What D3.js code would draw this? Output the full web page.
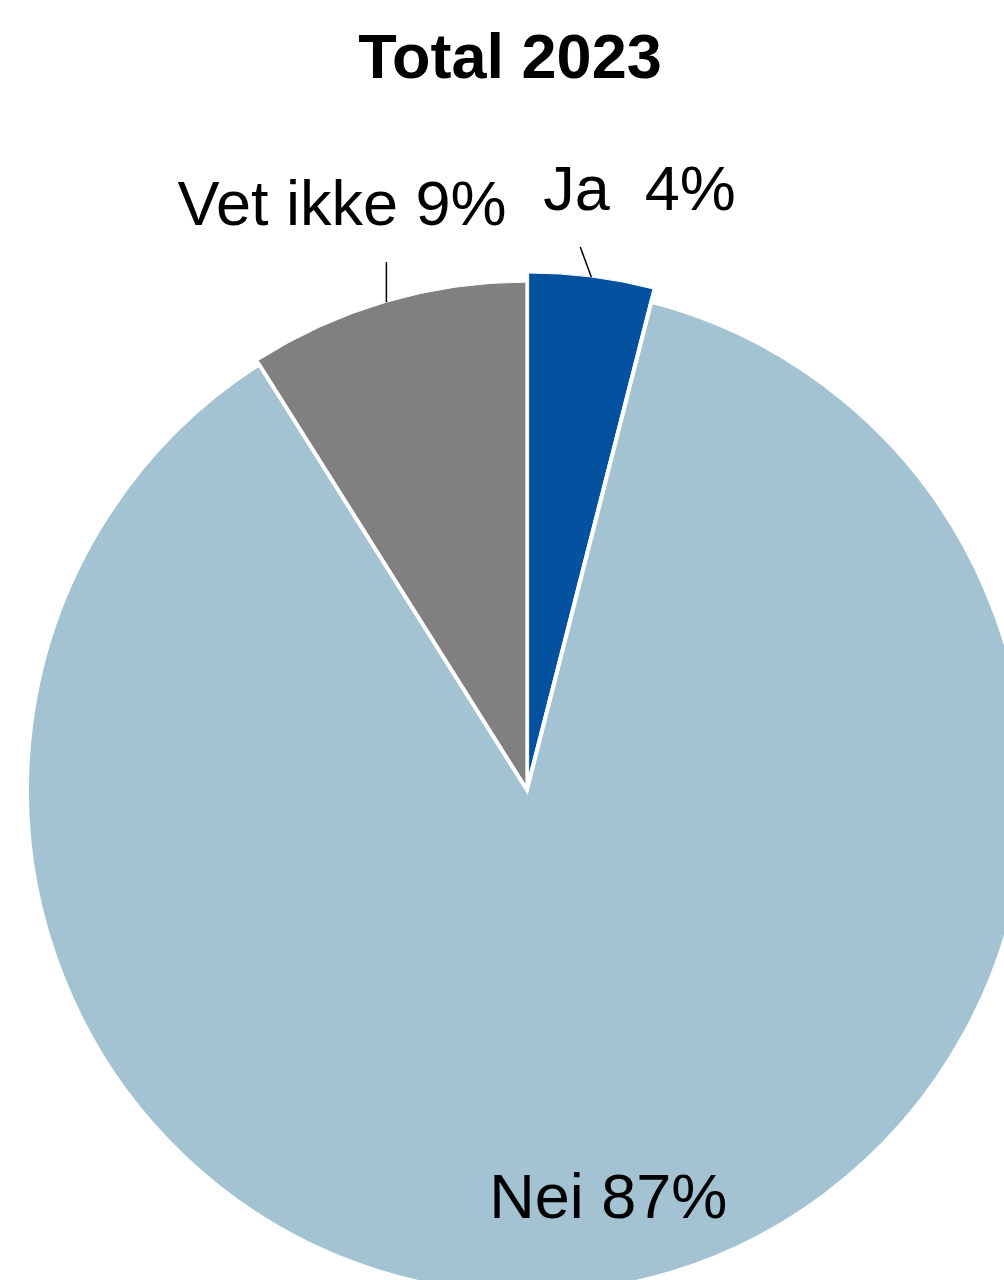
<!DOCTYPE html>
<html>
<head>
<meta charset="utf-8">
<script src="https://cdn.jsdelivr.net/npm/d3@7"></script>
<style>
  html, body { margin: 0; padding: 0; background: #fff; }
  text { font-family: "Liberation Sans", Arial, sans-serif; fill: #000; }
</style>
</head>
<body>
<div id="chart"></div>
<script>
// Data
const categories = ['Ja', 'Nei', 'Vet ikke'];
const shares = [4, 87, 9];
const labelTexts = ['Ja  4%', 'Nei 87%', 'Vet ikke 9%'];
const sliceColors = ['#0451A0', '#A3C2D2', '#808080'];
const chartTitle = 'Total 2023';

const width = 1004, height = 1280;
const cx = 527, cy = 790, radius = 500, squash = 1.008;

const svg = d3.select('#chart').append('svg')
  .attr('width', width)
  .attr('height', height);

// Title
svg.append('text')
  .attr('x', 510)
  .attr('y', 78)
  .attr('text-anchor', 'middle')
  .style('font-weight', 'bold')
  .style('font-size', '63px')
  .text(chartTitle);

const rows = categories.map((c, i) => ({ cat: c, value: shares[i], label: labelTexts[i], color: sliceColors[i] }));
const pie = d3.pie().sort(null).value(d => d.value);
const arcs = pie(rows);
const arc = d3.arc().innerRadius(0).outerRadius(radius);

// pulled-out slices (Ja is exploded, Vet ikke just a touch)
const explode = { 'Ja': 13, 'Nei': 0, 'Vet ikke': 4 };
const mid = d => (d.startAngle + d.endAngle) / 2;
const offset = d => [Math.sin(mid(d)) * explode[d.data.cat], -Math.cos(mid(d)) * explode[d.data.cat] * squash];
const outerPt = d => {
  const o = offset(d);
  return [cx + o[0] + Math.sin(mid(d)) * radius, cy + o[1] - Math.cos(mid(d)) * radius * squash];
};

const g = svg.append('g');

// draw small slices first, big Nei slice last so its white border cuts the gaps
const order = ['Ja', 'Vet ikke', 'Nei'];
order.forEach(cat => {
  const d = arcs.find(a => a.data.cat === cat);
  const o = offset(d);
  g.append('path')
    .attr('transform', `translate(${cx + o[0]},${cy + o[1]}) scale(1,${squash})`)
    .attr('d', arc(d))
    .attr('fill', d.data.color)
    .attr('stroke', '#fff')
    .attr('stroke-width', cat === 'Nei' ? 4 : 1)
    .attr('stroke-linejoin', 'miter')
    .attr('vector-effect', 'non-scaling-stroke');
});

// Labels with leader lines
const labelLayout = {
  'Ja': { lead: [-11, -30], text: [-37, -37], anchor: 'start' },
  'Vet ikke': { lead: [0, -40], text: [-209, -37], anchor: 'start' }
};

arcs.forEach(d => {
  const cat = d.data.cat;
  const lay = labelLayout[cat];
  if (lay) {
    const p = outerPt(d);
    const e = [p[0] + lay.lead[0], p[1] + lay.lead[1]];
    svg.append('line')
      .attr('x1', p[0]).attr('y1', p[1])
      .attr('x2', e[0]).attr('y2', e[1])
      .attr('stroke', '#000')
      .attr('stroke-width', 1.5);
    svg.append('text')
      .attr('x', e[0] + lay.text[0])
      .attr('y', e[1] + lay.text[1])
      .attr('text-anchor', lay.anchor)
      .style('font-size', '63px')
      .style('white-space', 'pre')
      .text(d.data.label);
  } else {
    // Nei label sits inside the slice near the bottom
    const m = mid(d);
    const rr = radius * 0.86;
    svg.append('text')
      .attr('x', cx + Math.sin(m) * rr + 14)
      .attr('y', cy - Math.cos(m) * rr * squash)
      .attr('text-anchor', 'middle')
      .style('font-size', '63px')
      .style('white-space', 'pre')
      .text(d.data.label);
  }
});
</script>
</body>
</html>
